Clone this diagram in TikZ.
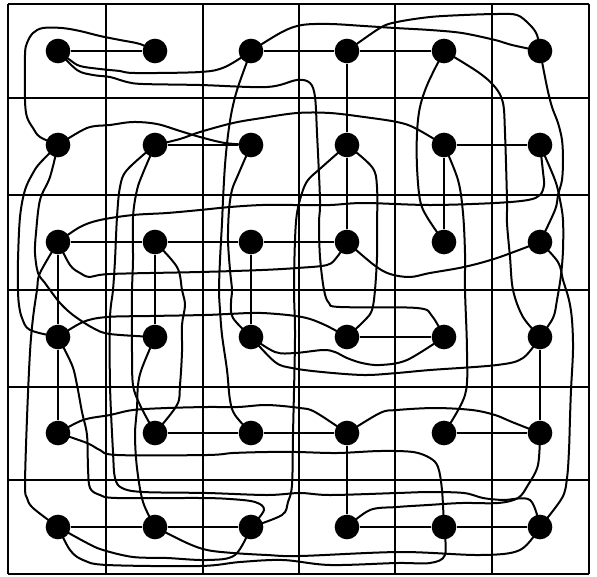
\documentclass[tikz,border=0pt]{standalone}
\usetikzlibrary{positioning}
\pgfdeclarelayer{wires}
\pgfsetlayers{wires,main}

\begin{document}
\begin{tikzpicture}[x=0.75pt, y=-0.75pt,
    dot/.style={circle, fill=black, inner sep=0pt, minimum size=18.5pt},
    gridline/.style={line width=1.5pt},
    edge/.style={line width=1.1pt},
    wire/.style={line width=1.5pt, line join=round}]
  \useasboundingbox (0,0) rectangle (597,576);

  % the 6x6 grid
  \foreach \x in {8,106,203,299,395,492,589}
    \draw[gridline] (\x,4) -- (\x,574);
  \foreach \y in {4,98,195,290,387,480,574}
    \draw[gridline] (8,\y) -- (589,\y);

  % points, one per cell
  \foreach \c/\x in {1/58,2/155,3/251,4/347,5/444,6/540}
    \foreach \r/\y in {1/51,2/145,3/242,4/337,5/433,6/527}
      \node[dot] (d\c\r) at (\x,\y) {};

  % straight edges
  \draw[edge] (d11) -- (d21);
  \draw[edge] (d31) -- (d41) -- (d51);
  \draw[edge] (d41) -- (d42) -- (d43);
  \draw[edge] (d22) -- (d32);
  \draw[edge] (d52) -- (d62);
  \draw[edge] (d52) -- (d53);
  \draw[edge] (d13) -- (d23) -- (d33) -- (d43);
  \draw[edge] (d13) -- (d14) -- (d15);
  \draw[edge] (d23) -- (d24);
  \draw[edge] (d33) -- (d34);
  \draw[edge] (d44) -- (d54);
  \draw[edge] (d64) -- (d65);
  \draw[edge] (d55) -- (d65);
  \draw[edge] (d25) -- (d35) -- (d45) -- (d46);
  \draw[edge] (d16) -- (d26) -- (d36);
  \draw[edge] (d46) -- (d56) -- (d66);

  % the drawn curve
  \begin{pgfonlayer}{wires}
  \begin{scope}[smooth, tension=0.55]
  \draw[wire] plot coordinates {(d21.center) (140,44) (120,40) (100,36) (80,31) (62,28) (43,28) (33,33) (27,43) (25,55) (25,100) (27,117) (33,128) (40,137) (d12.center)};
  \draw[wire] plot coordinates {(d11.center) (70,60) (80,66) (100,69) (120,71) (135,73) (200,72) (225,67) (d31.center)};
  \draw[wire] plot coordinates {(d11.center) (77,70) (93,75) (110,77) (127,82) (143,84) (200,85) (267,87) (297,80) (310,83) (315,97) (317,133) (320,200) (319,223) (320,257) (324,290) (329,303) (340,307) (417,308) (432,316) (d54.center)};
  \draw[wire] plot coordinates {(d12.center) (87,128) (110,125) (133,122) (157,124) (180,131) (200,137) (225,143) (d32.center)};
  \draw[wire] plot coordinates {(d22.center) (180,139) (200,132) (233,123) (262,118) (297,113) (330,113) (364,117) (397,122) (415,128) (d52.center)};
  \draw[wire] plot coordinates {(d12.center) (40,163) (33,173) (25,190) (20,217) (18,260) (18,290) (19,305) (22,318) (30,330) (d14.center)};
  \draw[wire] plot coordinates {(d12.center) (50,177) (40,200) (36,233) (35,253) (38,273) (45,283) (50,290) (60,303) (73,315) (93,328) (110,334) (d24.center)};
  \draw[wire] plot coordinates {(d13.center) (80,227) (100,220) (133,215) (167,213) (200,210) (230,207) (262,205) (295,205) (330,205) (364,203) (430,205) (495,203) (528,200) (540,195) (544,185) (543,172) (d62.center)};
  \draw[wire] plot coordinates {(d13.center) (70,265) (80,273) (90,277) (110,274) (200,272) (262,270) (297,268) (327,265) (337,257) (d43.center)};
  \draw[wire] plot coordinates {(d41.center) (380,28) (397,22) (430,17) (464,15) (497,14) (517,15) (530,25) (537,35) (d61.center)};
  \draw[wire] plot coordinates {(d31.center) (282,32) (302,25) (330,24) (364,26) (395,28) (430,30) (462,33) (495,40) (512,45) (d61.center)};
  \draw[wire] plot coordinates {(d31.center) (238,87) (232,110) (228,135) (225,165) (223,200) (222,223) (220,260) (219,290) (220,310) (222,335) (227,370) (230,400) (235,415) (d35.center)};
  \draw[wire] plot coordinates {(d32.center) (238,175) (232,190) (229,210) (228,240) (230,270) (232,290) (231,303) (233,318) (d34.center)};
  \draw[wire] plot coordinates {(d14.center) (83,322) (107,317) (150,316) (205,315) (228,314) (262,313) (302,317) (325,325) (d44.center)};
  \draw[wire] plot coordinates {(d34.center) (275,352) (295,353) (323,350) (335,352) (347,358) (362,363) (380,365) (407,360) (d54.center)};
  \draw[wire] plot coordinates {(d34.center) (275,362) (292,368) (322,372) (364,375) (397,373) (430,370) (497,365) (523,358) (d64.center)};
  \draw[wire] plot coordinates {(d42.center) (372,167) (377,187) (377,230) (377,257) (375,290) (372,310) (365,320) (d44.center)};
  \draw[wire] plot coordinates {(d42.center) (322,167) (308,180) (302,193) (297,213) (295,240) (294,290) (295,338) (293,435) (292,485) (288,502) (282,515) (d36.center)};
  \draw[wire] plot coordinates {(d51.center) (478,72) (495,87) (503,103) (505,133) (507,200) (507,223) (510,257) (513,290) (523,317) (d64.center)};
  \draw[wire] plot coordinates {(d51.center) (428,83) (420,107) (417,133) (417,167) (420,200) (427,217) (d53.center)};
  \draw[wire] plot coordinates {(d52.center) (458,180) (463,213) (465,253) (465,290) (467,352) (465,395) (d55.center)};
  \draw[wire] plot coordinates {(d13.center) (40,273) (37,290) (33,318) (30,352) (27,418) (25,485) (27,498) (33,508) (d16.center)};
  \draw[wire] plot coordinates {(d22.center) (127,170) (120,187) (117,217) (115,260) (113,290) (110,318) (110,385) (113,452) (115,478) (122,488) (143,492) (207,493) (267,495) (300,493) (330,495) (397,493) (430,492) (464,493) (483,498) (503,500) (530,500) (d66.center)};
  \draw[wire] plot coordinates {(d14.center) (72,365) (77,385) (82,412) (87,435) (88,468) (90,488) (100,495) (117,498) (200,498) (230,499) (255,502) (264,510) (d36.center)};
  \draw[wire] plot coordinates {(d15.center) (83,420) (110,415) (133,410) (167,408) (207,407) (238,407) (267,405) (300,408) (315,412) (d45.center)};
  \draw[wire] plot coordinates {(d45.center) (380,413) (397,410) (435,408) (472,410) (495,415) (512,422) (d65.center)};
  \draw[wire] plot coordinates {(d15.center) (87,443) (100,450) (117,455) (207,455) (233,453) (267,452) (297,452) (337,453) (380,451) (413,452) (430,458) (438,467) (442,490) (d56.center)};
  \draw[wire] plot coordinates {(d23.center) (177,267) (182,290) (185,305) (182,325) (182,352) (180,385) (177,405) (d25.center)};
  \draw[wire] plot coordinates {(d22.center) (143,173) (137,190) (133,217) (133,260) (132,290) (132,318) (132,352) (133,385) (140,405) (d25.center)};
  \draw[wire] plot coordinates {(d24.center) (142,368) (138,385) (137,408) (135,435) (137,468) (143,502) (d26.center)};
  \draw[wire] plot coordinates {(d62.center) (555,180) (560,200) (563,220) (563,250) (561,275) (557,300) (553,318) (d64.center)};
  \draw[wire] plot coordinates {(d61.center) (547,87) (552,107) (558,123) (562,140) (563,160) (562,180) (558,195) (555,210) (d63.center)};
  \draw[wire] plot coordinates {(d63.center) (558,262) (563,280) (569,300) (572,320) (573,350) (571,390) (570,418) (569,450) (567,478) (562,498) (d66.center)};
  \draw[wire] plot coordinates {(d43.center) (374,265) (390,274) (410,277) (430,273) (464,267) (497,258) (d63.center)};
  \draw[wire] plot coordinates {(d46.center) (370,510) (397,507) (428,505) (462,503) (498,503) (518,498) (528,485) (538,465) (d65.center)};
  \draw[wire] plot coordinates {(d16.center) (87,543) (103,550) (133,557) (167,558) (207,560) (235,555) (d36.center)};
  \draw[wire] plot coordinates {(d16.center) (70,550) (83,560) (107,565) (200,566) (240,562) (283,560) (330,565) (397,563) (430,563) (445,555) (d56.center)};
  \draw[wire] plot coordinates {(d26.center) (187,543) (207,550) (233,553) (267,555) (300,556) (400,552) (480,555) (520,550) (d66.center)};
  \end{scope}
  \end{pgfonlayer}
\end{tikzpicture}
\end{document}
